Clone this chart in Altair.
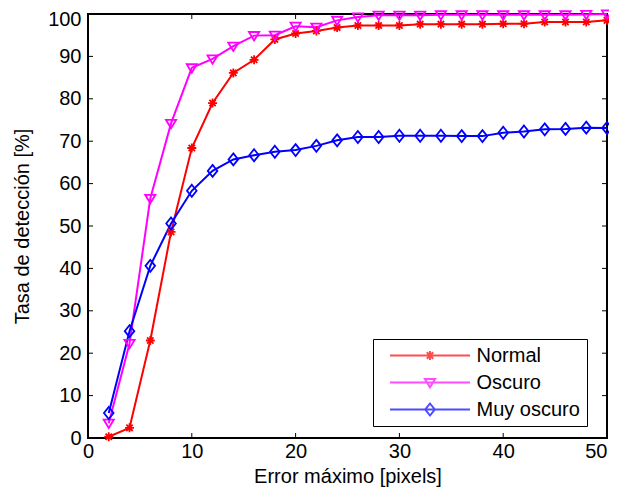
import altair as alt
import pandas as pd

# ---------------- data ----------------
x_vals = [2, 4, 6, 8, 10, 12, 14, 16, 18, 20, 22, 24, 26, 28, 30, 32, 34, 36, 38, 40, 42, 44, 46, 48, 50]
normal = [0.3, 2.4, 23.0, 48.6, 68.4, 79.0, 86.1, 89.2, 94.0, 95.4, 96.0, 96.8, 97.3,
          97.3, 97.3, 97.6, 97.6, 97.6, 97.6, 97.7, 97.7, 98.1, 98.1, 98.1, 98.5]
oscuro = [3.5, 22.3, 56.5, 74.2, 87.3, 89.4, 92.4, 94.9, 95.0, 97.1, 96.9, 98.5, 99.3,
          99.7, 99.7, 99.7, 99.8, 99.8, 99.8, 99.8, 99.8, 99.8, 99.8, 99.9, 100.0]
muy_oscuro = [5.9, 25.2, 40.6, 50.6, 58.3, 63.0, 65.7, 66.7, 67.5, 67.9, 68.9, 70.2, 71.0,
              71.0, 71.3, 71.3, 71.3, 71.2, 71.2, 72.0, 72.3, 72.8, 72.9, 73.2, 73.1]
series_names = ["Normal", "Oscuro", "Muy oscuro"]
colors = ["#FF0000", "#FF00FF", "#0000FF"]
x_ticks = [0, 10, 20, 30, 40, 50]
y_ticks = [0, 10, 20, 30, 40, 50, 60, 70, 80, 90, 100]

rows = []
for name, vals in zip(series_names, [normal, oscuro, muy_oscuro]):
    for xv, yv in zip(x_vals, vals):
        rows.append({"x": xv, "y": yv, "serie": name})
df = pd.DataFrame(rows)

W, H = 519, 424
FONT = "Liberation Sans"
FS = 20

# marker shapes
star = "M-0.75,0H0.75M0,-0.75V0.75M-0.53,-0.53L0.53,0.53M-0.53,0.53L0.53,-0.53"
tri = "M-0.85,-0.6L0.85,-0.6L0,0.8Z"
dia = "M0,-1L0.8,0L0,1L-0.8,0Z"
# legend symbols: line + marker
star_leg = "M-1,0H1M-0.1125,0H0.1125M0,-0.1125V0.1125M-0.08,-0.08L0.08,0.08M-0.08,0.08L0.08,-0.08"
tri_leg = "M-1,0H1M-0.1275,-0.09L0.1275,-0.09L0,0.12Z"
dia_leg = "M-1,0H1M0,-0.15L0.12,0L0,0.15L-0.12,0Z"

X = alt.X("x:Q", scale=alt.Scale(domain=[0, 50], nice=False),
          axis=alt.Axis(values=x_ticks, title="Error máximo [pixels]", tickSize=0,
                        domain=False, grid=False, labelPadding=3, titlePadding=5,
                        labelFlush=False, format="d",
                        labelAlign=alt.condition("datum.value == 50", alt.value("right"), alt.value("center"))))
Y = alt.Y("y:Q", scale=alt.Scale(domain=[0, 100], nice=False),
          axis=alt.Axis(values=y_ticks, title="Tasa de detección [%]", tickSize=0,
                        domain=False, grid=False, labelPadding=7, titlePadding=15,
                        labelFlush=False, format="d",
                        labelOffset=alt.condition("datum.value == 100", alt.value(5), alt.value(0))))

color_line = alt.Color("serie:N", scale=alt.Scale(domain=series_names, range=colors), legend=None)

lines = alt.Chart(df).mark_line(strokeWidth=2).encode(
    x=X, y=Y, color=color_line, detail="serie:N")

points = alt.Chart(df).mark_point(filled=False, strokeWidth=1.8, size=144, opacity=1).encode(
    x=X, y=Y,
    color=alt.Color("serie:N", scale=alt.Scale(domain=series_names, range=colors), legend=None),
    shape=alt.Shape("serie:N", scale=alt.Scale(domain=series_names, range=[star, tri, dia]), legend=None),
)

leg = alt.Legend(title=None, orient="none", legendX=285, legendY=325,
                 padding=6.5, strokeColor="black", fillColor="white",
                 labelFont=FONT, labelFontSize=FS, labelColor="black",
                 symbolSize=6400, symbolStrokeWidth=2, clipHeight=20,
                 rowPadding=7, symbolOffset=9.5, labelOffset=5.5,
                 cornerRadius=0)

legend_layer = alt.Chart(df).transform_filter("false").mark_point(filled=False, strokeWidth=2).encode(
    x=X, y=Y,
    color=alt.Color("serie:N", scale=alt.Scale(domain=series_names, range=colors), legend=leg),
    shape=alt.Shape("serie:N", scale=alt.Scale(domain=series_names, range=[star_leg, tri_leg, dia_leg]),
                    legend=leg),
)

xt = pd.DataFrame({"x": x_ticks})
yt = pd.DataFrame({"y": y_ticks})
tick_style = dict(color="black", strokeWidth=1)
xt_bottom = alt.Chart(xt).mark_rule(**tick_style).encode(x=X, y=alt.value(H), y2=alt.value(H - 5))
xt_top = alt.Chart(xt).mark_rule(**tick_style).encode(x=X, y=alt.value(0), y2=alt.value(5))
yt_left = alt.Chart(yt).mark_rule(**tick_style).encode(y=Y, x=alt.value(0), x2=alt.value(5))
yt_right = alt.Chart(yt).mark_rule(**tick_style).encode(y=Y, x=alt.value(W), x2=alt.value(W - 5))

chart = alt.layer(
    xt_bottom, xt_top, yt_left, yt_right, lines, points, legend_layer
).resolve_scale(
    color="independent", shape="independent"
).properties(
    width=W, height=H,
    background="white",
    autosize=alt.AutoSizeParams(type="none"),
    padding={"left": 80, "top": 6, "right": 2, "bottom": 52},
).configure_view(
    stroke="black", strokeWidth=2
).configure_axis(
    labelFont=FONT, titleFont=FONT, labelFontSize=FS, titleFontSize=FS,
    labelColor="black", titleColor="black", titleFontWeight="normal"
)

chart.save("out.html", embed_options={"renderer": "svg", "actions": False})
